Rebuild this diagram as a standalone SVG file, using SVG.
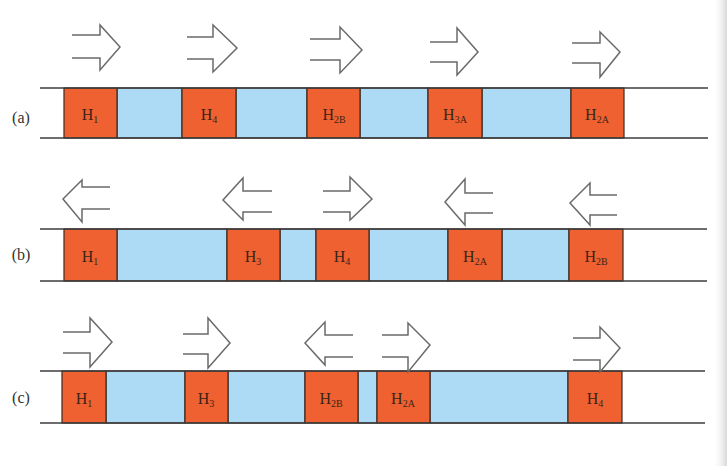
<svg xmlns="http://www.w3.org/2000/svg" width="727" height="466" viewBox="0 0 727 466">
<defs>
<linearGradient id="edge" x1="0" y1="0" x2="1" y2="0">
<stop offset="0" stop-color="#ffffff" stop-opacity="0"/>
<stop offset="1" stop-color="#d8d8d8"/>
</linearGradient>
</defs>
<style>
.rail{stroke:#3c3c3c;stroke-width:1.6;fill:none}
.h{fill:#EF6130;stroke:#3a2a20;stroke-width:1.2}
.l{fill:#ADDAF4;stroke:#3a2a20;stroke-width:1.2}
.arr{fill:#fff;stroke:#6a6a6a;stroke-width:1.5;stroke-linejoin:miter}
.t{font-family:"Liberation Serif",serif;font-size:16px;fill:#3b2418;text-anchor:middle}
.s{font-size:10px}
.lab{font-family:"Liberation Serif",serif;font-size:16px;fill:#333;text-anchor:middle}
</style>
<rect width="727" height="466" fill="#fff"/>
<rect x="712" y="0" width="15" height="466" fill="url(#edge)"/>

<g id="row-a">
<text class="lab" x="21" y="123">(a)</text>
<rect class="l" x="117" y="88" width="65" height="50"/>
<rect class="l" x="236" y="88" width="71" height="50"/>
<rect class="l" x="360" y="88" width="68" height="50"/>
<rect class="l" x="482" y="88" width="89" height="50"/>
<g id="a-H1"><rect class="h" x="64" y="88" width="53" height="50"/><text class="t" x="90" y="120">H<tspan class="s" dy="3">1</tspan></text></g>
<g id="a-H4"><rect class="h" x="182" y="88" width="54" height="50"/><text class="t" x="209" y="120">H<tspan class="s" dy="3">4</tspan></text></g>
<g id="a-H2B"><rect class="h" x="307" y="88" width="53" height="50"/><text class="t" x="334" y="120">H<tspan class="s" dy="3">2B</tspan></text></g>
<g id="a-H3A"><rect class="h" x="428" y="88" width="54" height="50"/><text class="t" x="455" y="120">H<tspan class="s" dy="3">3A</tspan></text></g>
<g id="a-H2A"><rect class="h" x="571" y="88" width="53" height="50"/><text class="t" x="597" y="120">H<tspan class="s" dy="3">2A</tspan></text></g>
<line class="rail" x1="40" y1="88" x2="708" y2="88"/>
<line class="rail" x1="40" y1="138" x2="708" y2="138"/>
</g>

<g id="row-b">
<text class="lab" x="21" y="260">(b)</text>
<rect class="l" x="117" y="229" width="110" height="52"/>
<rect class="l" x="280" y="229" width="36" height="52"/>
<rect class="l" x="369" y="229" width="79" height="52"/>
<rect class="l" x="502" y="229" width="67" height="52"/>
<g id="b-H1"><rect class="h" x="64" y="229" width="53" height="52"/><text class="t" x="90" y="262">H<tspan class="s" dy="3">1</tspan></text></g>
<g id="b-H3"><rect class="h" x="227" y="229" width="53" height="52"/><text class="t" x="253" y="262">H<tspan class="s" dy="3">3</tspan></text></g>
<g id="b-H4"><rect class="h" x="316" y="229" width="53" height="52"/><text class="t" x="342" y="262">H<tspan class="s" dy="3">4</tspan></text></g>
<g id="b-H2A"><rect class="h" x="448" y="229" width="54" height="52"/><text class="t" x="475" y="262">H<tspan class="s" dy="3">2A</tspan></text></g>
<g id="b-H2B"><rect class="h" x="569" y="229" width="54" height="52"/><text class="t" x="596" y="262">H<tspan class="s" dy="3">2B</tspan></text></g>
<line class="rail" x1="40" y1="229" x2="707" y2="229"/>
<line class="rail" x1="40" y1="281" x2="707" y2="281"/>
</g>

<g id="row-c">
<text class="lab" x="21" y="403">(c)</text>
<rect class="l" x="106" y="371" width="79" height="52"/>
<rect class="l" x="228" y="371" width="77" height="52"/>
<rect class="l" x="358" y="371" width="19" height="52"/>
<rect class="l" x="430" y="371" width="138" height="52"/>
<g id="c-H1"><rect class="h" x="62" y="371" width="44" height="52"/><text class="t" x="84" y="404">H<tspan class="s" dy="3">1</tspan></text></g>
<g id="c-H3"><rect class="h" x="185" y="371" width="43" height="52"/><text class="t" x="206" y="404">H<tspan class="s" dy="3">3</tspan></text></g>
<g id="c-H2B"><rect class="h" x="305" y="371" width="53" height="52"/><text class="t" x="331" y="404">H<tspan class="s" dy="3">2B</tspan></text></g>
<g id="c-H2A"><rect class="h" x="377" y="371" width="53" height="52"/><text class="t" x="403" y="404">H<tspan class="s" dy="3">2A</tspan></text></g>
<g id="c-H4"><rect class="h" x="568" y="371" width="54" height="52"/><text class="t" x="595" y="404">H<tspan class="s" dy="3">4</tspan></text></g>
<line class="rail" x1="40" y1="371" x2="705" y2="371"/>
<line class="rail" x1="40" y1="423" x2="705" y2="423"/>
</g>

<g id="connectors">
<polyline class="arr" points="72,35 100,35 100,25 120,47 100,70 100,58 72,58"/>
<polyline class="arr" points="187,37 213,37 213,25 237,48 213,72 213,59 187,59"/>
<polyline class="arr" points="310,39 340,39 340,27 362,50 340,73 340,60 310,60"/>
<polyline class="arr" points="430,42 457,42 457,28 478,52 457,75 457,62 430,62"/>
<polyline class="arr" points="572,43 600,43 600,32 620,52 600,77 600,63 572,63"/>

<polyline class="arr" points="110,187 82,187 82,180 63,199 82,222 82,209 110,209"/>
<polyline class="arr" points="272,191 243,191 243,178 223,200 243,220 243,212 272,212"/>
<polyline class="arr" points="323,191 350,191 350,177 372,199 350,220 350,212 323,212"/>
<polyline class="arr" points="493,193 465,193 465,179 445,202 465,225 465,213 493,213"/>
<polyline class="arr" points="617,195 590,195 590,183 570,203 590,225 590,215 617,215"/>

<polyline class="arr" points="63,332 90,332 90,318 112,342 90,367 90,353 63,353"/>
<polyline class="arr" points="183,334 208,334 208,318 230,343 208,368 208,354 183,354"/>
<polyline class="arr" points="353,335 325,335 325,322 305,343 325,365 325,357 353,357"/>
<polyline class="arr" points="382,335 408,335 408,323 430,345 408,372 408,357 382,357"/>
<polyline class="arr" points="573,338 600,338 600,327 620,348 600,372 600,360 573,360"/>
</g>
</svg>
